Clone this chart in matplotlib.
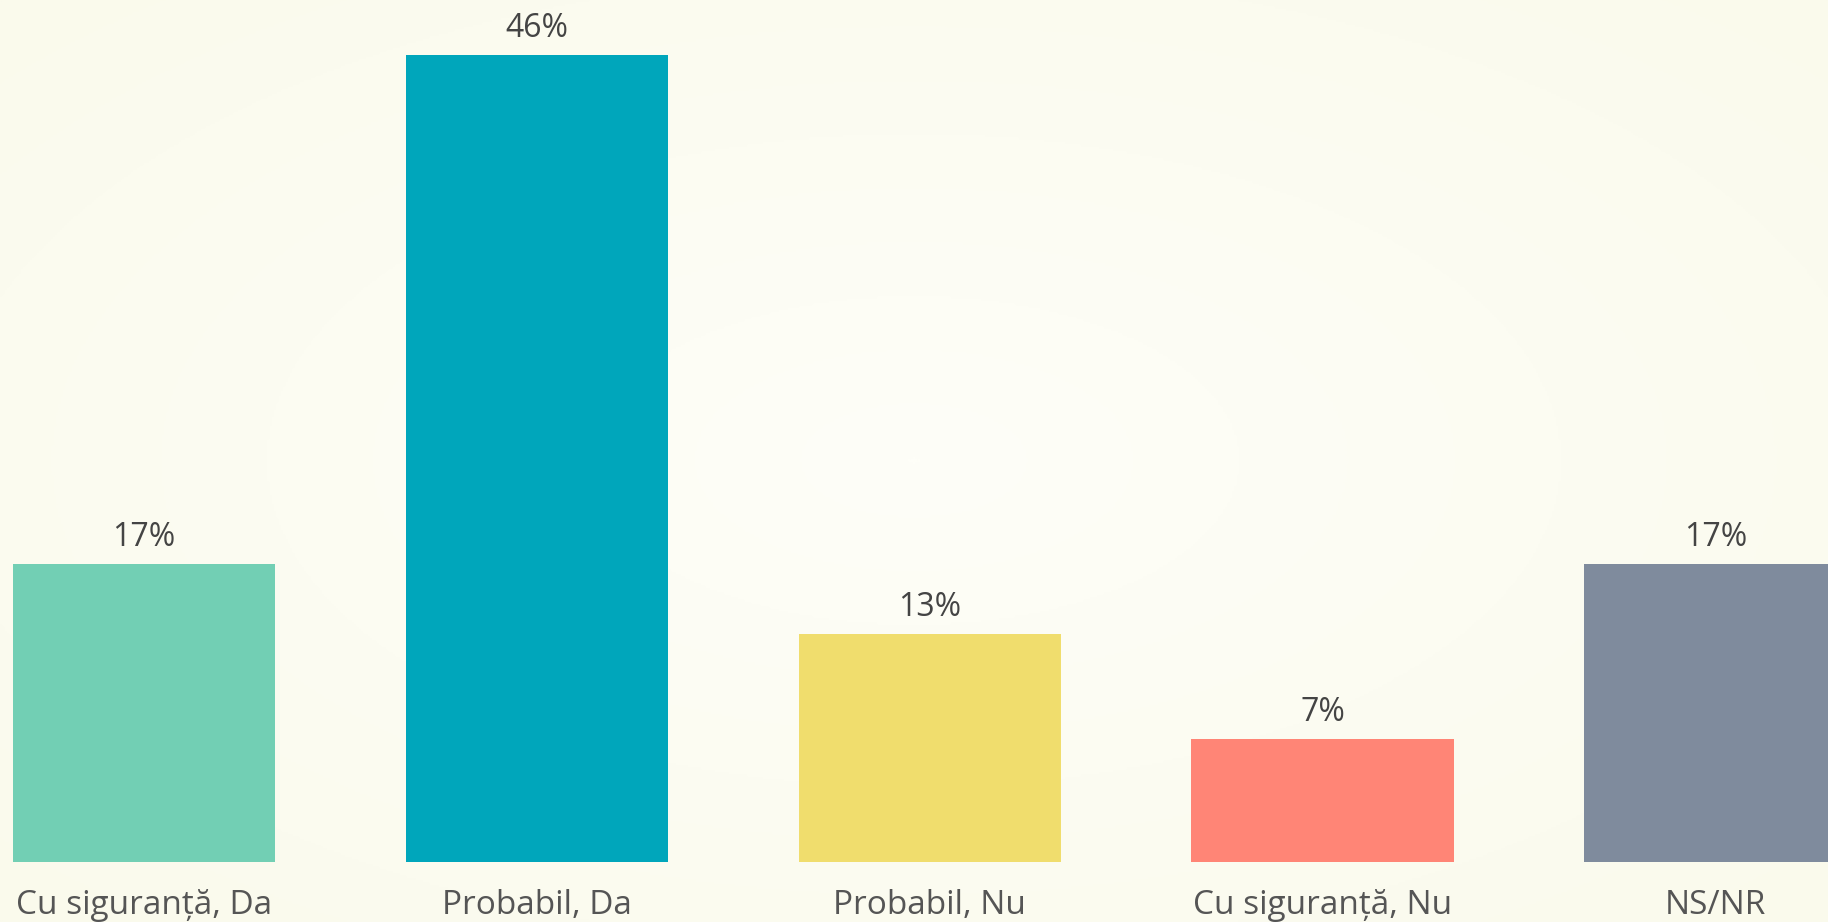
import numpy as np
import matplotlib.pyplot as plt
from matplotlib.colors import LinearSegmentedColormap

# Survey answers and shares (%)
categories = ['Cu siguranță, Da', 'Probabil, Da', 'Probabil, Nu', 'Cu siguranță, Nu', 'NS/NR']
values = [17, 46, 13, 7, 17]
colors = ['#72CFB4', '#00A6BB', '#F0DD6D', '#FF8576', '#7F8B9D']

plt.rcParams['font.family'] = ['Open Sans', 'DejaVu Sans']

fig = plt.figure(figsize=(18.28, 9.22), dpi=100)

# soft radial background, lighter in the middle
bg = fig.add_axes([0, 0, 1, 1], zorder=0)
yy, xx = np.mgrid[-1:1:400j, -1:1:800j]
r = np.sqrt(xx ** 2 + yy ** 2) / np.sqrt(2)
cmap = LinearSegmentedColormap.from_list('bg', ['#FEFEF8', '#FAFAEC'])
bg.imshow(r, cmap=cmap, aspect='auto', extent=[0, 1, 0, 1])
bg.axis('off')

ax = fig.add_axes([0, 0, 1, 1], zorder=1)
ax.patch.set_alpha(0)
x = np.arange(len(categories))
ax.bar(x, values, width=0.668, color=colors)

for xi, v, cat in zip(x, values, categories):
    ax.annotate(f'{v}%', (xi, v), xytext=(0, 18), textcoords='offset pixels',
                ha='center', va='baseline', fontsize=23, color='#444444')
    ax.annotate(cat, (xi, 0), xytext=(0, -52), textcoords='offset pixels',
                ha='center', va='baseline', fontsize=24, color='#555555')

ax.set_xlim(-0.3665, 4.286)
ax.set_ylim(-3.44, 49.16)
ax.axis('off')

fig.savefig('out.png', dpi=100)
